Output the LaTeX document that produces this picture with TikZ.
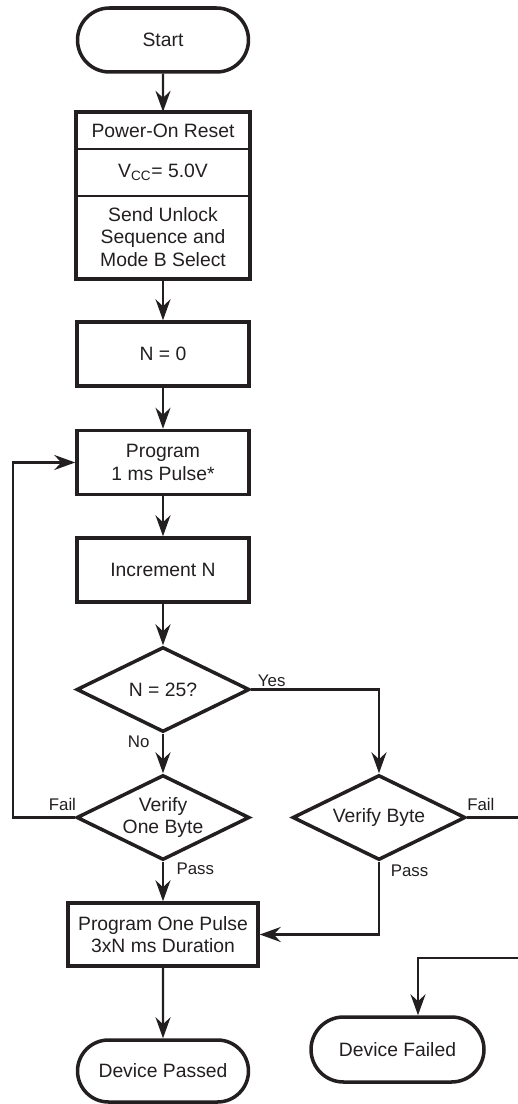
\documentclass[tikz,border=0pt]{standalone}
\usepackage{fontspec}
\setmainfont{Liberation Sans}
\usetikzlibrary{shapes.geometric,shapes.misc,arrows.meta}
\definecolor{ink}{RGB}{35,31,32}
\newcommand{\px}{0.02cm}

\begin{document}
\begin{tikzpicture}[x=\px, y=-\px, color=ink, line width=1.4pt,
    font=\fontsize{11}{12.8}\selectfont,
    term/.style={draw, rounded rectangle, line width=2pt, minimum width=3.42cm, minimum height=1.28cm, inner sep=0pt},
    proc/.style={draw, rectangle, line width=2pt, minimum width=3.44cm, minimum height=1.28cm, inner sep=0pt, align=center},
    cell/.style={draw, rectangle, line width=1.3pt, minimum width=3.44cm, inner sep=0pt, align=center},
    test/.style={draw, diamond, line width=2pt, minimum width=3.46cm, minimum height=1.7cm, aspect=2, inner sep=0pt, align=center},
    flow/.style={-{Stealth[length=0.42cm, width=0.3cm, inset=0.14cm]}},
    lbl/.style={font=\fontsize{9.6}{11}\selectfont, inner sep=1pt}]
    \useasboundingbox (0,0) rectangle (517,1104);

    % Left column
    \node[term] (start) at (163,40) {Start};

    \node[cell, minimum height=36*\px] (por) at (163,131) {Power-On Reset};
    \node[cell, minimum height=47*\px] (vcc) at (163,172.5) {V\textsubscript{CC}= 5.0V};
    \node[cell, minimum height=82*\px] (unlock) at (163,237) {Send Unlock\\Sequence and\\Mode B Select};
    \draw[line width=2pt] (por.north west) rectangle (unlock.south east);

    \node[proc] (n0) at (163,354) {N = 0};
    \node[proc] (prog) at (163,462.5) {Program\\1 ms Pulse*};
    \node[proc] (inc) at (163,570) {Increment N};
    \node[test] (n25) at (163,689.5) {N = 25?};
    \node[test] (vob) at (163,817.5) {Verify\\One Byte};
    \node[proc, minimum width=3.8cm, minimum height=1.26cm] (pulse) at (163,934.5) {Program One Pulse\\3xN ms Duration};
    \node[term, minimum height=1.24cm] (passed) at (163,1071) {Device Passed};

    % Right column
    \node[test] (vb) at (379,817.5) {Verify Byte};
    \node[term, minimum width=3.46cm, minimum height=1.3cm] (failed) at (397.5,1049.5) {Device Failed};

    \coordinate (loop) at (13,817.5);
    \coordinate (failedge) at (524,817.5);
    \coordinate (failturn) at (524,958);

    \draw[flow] (start) -- (por);
    \draw[flow] (unlock) -- (n0);
    \draw[flow] (n0) -- (prog);
    \draw[flow] (prog) -- (inc);
    \draw[flow] (inc) -- (n25);
    \draw[flow] (n25) -- node[lbl, left, pos=0.2, xshift=-6pt]{No} (vob);
    \draw[flow] (n25.east) -| node[lbl, above, pos=0.08]{Yes} (vb.north);
    \draw[flow] (vob.west) -- node[lbl, above, pos=0.2, yshift=2pt]{Fail} (loop) |- (prog.west);
    \draw[flow] (vob) -- node[lbl, anchor=west, pos=0.19, xshift=6pt]{Pass} (pulse);
    \draw[flow] (vb.south) |- node[lbl, anchor=west, pos=0.06, xshift=5pt]{Pass} (pulse.east);
    \draw[flow] (vb.east) -- node[lbl, above, pos=0.24, yshift=2pt]{Fail} (failedge) -- (failturn) -| ([xshift=20.5*\px]failed.north);
    \draw[flow] (pulse) -- (passed);

\end{tikzpicture}
\end{document}
